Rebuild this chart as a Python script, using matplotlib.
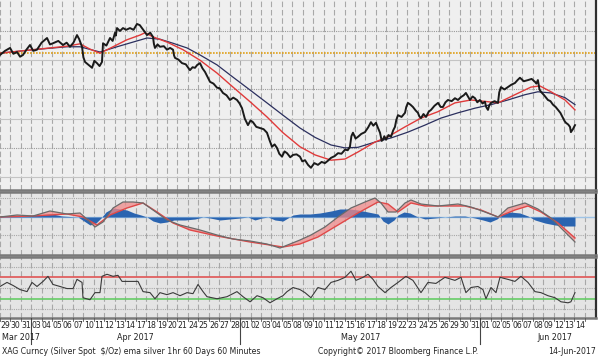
import matplotlib
matplotlib.use('Agg')
import matplotlib.pyplot as plt

# session labels (trading days), Mar 29 2017 .. Jun 14 2017
day_labels = ['29', '30', '31',
              '03', '04', '05', '06', '07', '10', '11', '12', '13', '14', '17', '18', '19', '20', '21',
              '24', '25', '26', '27', '28',
              '01', '02', '03', '04', '05', '08', '09', '10', '11', '12', '15', '16', '17', '18', '19',
              '22', '23', '24', '25', '26', '29', '30', '31',
              '01', '02', '05', '06', '07', '08', '09', '12', '13', '14']
month_names = ['Mar 2017', 'Apr 2017', 'May 2017', 'Jun 2017']
month_breaks = [2.5, 22.5, 45.5]

# time in trading sessions since Mar 29 (fractional = intraday)
price_t = [-0.48, 0.00, 0.48, 0.80, 1.15, 1.44, 1.72, 2.05, 2.39, 2.70, 3.06, 3.50, 4.02, 4.30,
           4.59, 5.10, 5.55, 5.90, 6.22, 6.55, 6.89, 7.10, 7.37, 7.50, 7.66, 8.00, 8.33, 8.55,
           8.80, 9.05, 9.28, 9.38, 9.70, 10.05, 10.30, 10.53, 10.60, 10.72, 11.00, 11.29, 11.60,
           11.96, 12.30, 12.63, 12.90, 13.11, 13.35, 13.59, 13.90, 14.16, 14.25, 14.35, 14.60,
           14.83, 15.20, 15.50, 15.80, 16.08, 16.18, 16.27, 16.60, 16.94, 17.30, 17.70, 17.95,
           18.18, 18.40, 18.66, 18.90, 19.14, 19.40, 19.62, 19.95, 20.29, 20.55, 20.86, 21.20,
           21.53, 21.85, 22.20, 22.45, 22.68, 22.95, 23.25, 23.50, 23.73, 24.05, 24.40, 24.75,
           25.07, 25.30, 25.55, 25.80, 26.03, 26.25, 26.51, 26.75, 26.99, 27.30, 27.56, 27.90,
           28.23, 28.45, 28.71, 29.00, 29.28, 29.60, 29.95, 30.30, 30.62, 30.90, 31.20, 31.55,
           31.87, 32.20, 32.54, 32.80, 33.01, 33.15, 33.30, 33.55, 33.78, 34.10, 34.45, 34.75,
           35.02, 35.25, 35.50, 35.70, 35.89, 36.05, 36.17, 36.30, 36.46, 36.70, 36.94, 37.15,
           37.32, 37.45, 37.61, 37.95, 38.28, 38.40, 38.56, 38.80, 39.04, 39.30, 39.52, 39.65,
           39.81, 40.05, 40.29, 40.55, 40.77, 41.10, 41.44, 41.70, 41.91, 42.15, 42.39, 42.75,
           43.06, 43.35, 43.64, 43.90, 44.11, 44.30, 44.50, 44.75, 44.98, 45.20, 45.45, 45.70,
           45.93, 46.05, 46.22, 46.35, 46.51, 46.85, 47.18, 47.30, 47.46, 47.80, 48.13, 48.45,
           48.80, 49.05, 49.28, 49.65, 50.05, 50.40, 50.72, 50.85, 51.00, 51.15, 51.29, 51.60,
           51.96, 52.20, 52.44, 52.70, 52.92, 53.15, 53.40, 53.55, 53.68, 53.90, 54.07, 54.16,
           54.35, 54.55]
price = [18.09, 18.16, 18.21, 18.11, 18.14, 18.06, 18.09, 18.18, 18.26, 18.16, 18.18, 18.30, 18.38,
         18.27, 18.29, 18.33, 18.26, 18.30, 18.23, 18.30, 18.43, 18.36, 18.23, 18.05, 17.97, 17.92,
         17.87, 17.99, 17.95, 17.90, 17.97, 18.29, 18.25, 18.38, 18.33, 18.47, 18.42, 18.55, 18.50,
         18.55, 18.52, 18.55, 18.52, 18.62, 18.60, 18.55, 18.49, 18.43, 18.47, 18.40, 18.28, 18.21,
         18.27, 18.23, 18.24, 18.18, 18.21, 18.18, 18.08, 18.04, 18.01, 17.95, 17.93, 17.83, 17.88,
         17.87, 17.92, 17.95, 17.86, 17.80, 17.71, 17.63, 17.60, 17.53, 17.52, 17.44, 17.40, 17.32,
         17.36, 17.32, 17.26, 17.18, 17.00, 16.89, 16.97, 16.94, 16.86, 16.84, 16.82, 16.76, 16.64,
         16.52, 16.56, 16.50, 16.40, 16.35, 16.44, 16.41, 16.34, 16.38, 16.39, 16.35, 16.27, 16.29,
         16.21, 16.16, 16.24, 16.21, 16.26, 16.24, 16.28, 16.33, 16.36, 16.41, 16.40, 16.47, 16.46,
         16.52, 16.70, 16.76, 16.66, 16.69, 16.74, 16.77, 16.85, 16.94, 16.88, 16.93, 16.84, 16.76,
         16.62, 16.64, 16.70, 16.64, 16.72, 16.69, 16.80, 16.86, 16.98, 17.06, 17.03, 17.10, 17.20,
         17.27, 17.24, 17.20, 17.14, 17.10, 17.04, 17.01, 17.08, 17.03, 17.12, 17.15, 17.22, 17.27,
         17.20, 17.20, 17.28, 17.32, 17.30, 17.35, 17.32, 17.37, 17.40, 17.44, 17.38, 17.32, 17.38,
         17.35, 17.28, 17.32, 17.26, 17.29, 17.20, 17.15, 17.23, 17.27, 17.30, 17.27, 17.45, 17.54,
         17.50, 17.54, 17.58, 17.61, 17.66, 17.70, 17.64, 17.66, 17.68, 17.63, 17.60, 17.66, 17.50,
         17.46, 17.40, 17.32, 17.30, 17.24, 17.20, 17.15, 17.10, 17.01, 16.96, 16.93, 16.90, 16.86,
         16.77, 16.82, 16.89]

ema_fast_t = [-0.48, 2.68, 5.93, 7.18, 8.13, 9.09, 10.34, 11.67, 12.92, 13.40, 14.16, 15.50, 17.03,
              18.66, 20.29, 21.82, 23.45, 25.07, 26.60, 28.23, 29.67, 31.20, 32.54, 33.78, 35.41,
              36.65, 38.28, 39.81, 41.44, 43.06, 44.59, 46.22, 47.18, 48.80, 50.33, 51.19, 52.25,
              53.59, 54.55]
ema_fast = [18.12, 18.18, 18.24, 18.28, 18.19, 18.12, 18.23, 18.35, 18.43, 18.47, 18.40, 18.31,
            18.18, 18.00, 17.78, 17.54, 17.29, 17.03, 16.76, 16.52, 16.38, 16.29, 16.31, 16.43,
            16.60, 16.69, 16.86, 17.01, 17.12, 17.27, 17.32, 17.29, 17.27, 17.41, 17.54, 17.56,
            17.46, 17.32, 17.15]

ema_slow_t = [-0.48, 2.68, 5.93, 7.18, 9.09, 10.72, 12.25, 13.59, 14.83, 16.08, 17.42, 18.66, 20.29,
              21.82, 23.45, 25.07, 26.60, 28.23, 29.67, 31.20, 32.54, 33.78, 35.41, 36.94, 38.56,
              40.19, 41.72, 43.35, 44.98, 46.51, 48.13, 49.76, 51.00, 52.25, 53.59, 54.55]
ema_slow = [18.12, 18.18, 18.23, 18.23, 18.14, 18.23, 18.31, 18.38, 18.36, 18.29, 18.21, 18.09,
            17.92, 17.71, 17.49, 17.27, 17.06, 16.84, 16.68, 16.55, 16.50, 16.51, 16.60, 16.67,
            16.77, 16.89, 17.01, 17.10, 17.18, 17.24, 17.32, 17.41, 17.46, 17.44, 17.36, 17.24]

ref_level = 18.12

macd_t = [-0.48, 1.15, 2.68, 4.30, 5.93, 7.18, 7.94, 8.61, 9.38, 10.34, 11.29, 12.25, 13.21, 14.16,
          15.50, 16.75, 18.66, 20.29, 21.82, 23.45, 25.07, 26.32, 27.28, 28.23, 29.28, 30.62, 31.87,
          33.11, 34.45, 35.41, 35.98, 36.65, 37.42, 38.28, 38.85, 39.81, 41.44, 43.35, 44.59, 45.93,
          47.18, 48.13, 49.76, 51.00, 52.25, 53.59, 54.55]
macd = [0.00, 0.02, 0.01, 0.06, 0.03, 0.04, -0.03, -0.10, -0.05, 0.09, 0.15, 0.15, 0.14, 0.07,
        -0.03, -0.08, -0.13, -0.18, -0.22, -0.24, -0.27, -0.31, -0.27, -0.23, -0.18, -0.10, 0.00,
        0.09, 0.15, 0.19, 0.14, 0.05, 0.05, 0.14, 0.17, 0.13, 0.11, 0.13, 0.10, 0.05, 0.00, 0.09,
        0.14, 0.08, -0.01, -0.15, -0.25]

signal_t = [-0.48, 2.68, 5.93, 7.46, 8.80, 10.05, 11.67, 13.21, 14.55, 16.08, 17.70, 20.29, 23.45,
            26.60, 28.23, 29.95, 31.87, 33.78, 35.70, 36.65, 37.61, 38.85, 40.19, 42.10, 44.02,
            45.55, 47.18, 48.80, 50.05, 51.29, 52.92, 54.55]
signal = [0.00, 0.01, 0.03, 0.00, -0.08, 0.02, 0.09, 0.14, 0.05, -0.06, -0.13, -0.19, -0.25, -0.30,
          -0.27, -0.20, -0.08, 0.04, 0.15, 0.13, 0.05, 0.14, 0.11, 0.11, 0.11, 0.07, 0.00, 0.07,
          0.11, 0.05, -0.06, -0.21]

hist_t = [-0.48, 0.48, 1.44, 2.39, 3.35, 4.11, 4.78, 5.45, 6.22, 6.98, 7.56, 8.13, 8.71, 9.19, 9.66,
          10.34, 11.00, 11.67, 12.35, 13.02, 13.59, 14.16, 14.83, 15.50, 16.17, 17.22, 18.18, 18.95,
          19.62, 20.57, 21.53, 22.49, 23.25, 23.92, 24.59, 25.17, 25.84, 26.60, 27.08, 27.56, 28.23,
          29.19, 30.14, 31.20, 32.06, 33.01, 33.78, 34.74, 35.70, 36.17, 36.65, 37.23, 37.61, 38.18,
          38.76, 39.33, 40.19, 41.15, 42.10, 43.06, 44.02, 44.98, 45.74, 46.41, 47.08, 47.66, 48.33,
          49.28, 50.05, 50.72, 51.67, 52.63, 53.59, 54.55]
hist = [0.010, 0.015, 0.010, 0.015, 0.020, 0.030, 0.025, 0.010, 0.005, 0.000, -0.040, -0.080, -0.060,
        -0.010, 0.050, 0.090, 0.080, 0.070, 0.040, 0.020, 0.000, -0.040, -0.060, -0.050, -0.030,
        -0.030, -0.020, 0.000, -0.010, -0.030, -0.020, -0.010, 0.000, -0.030, -0.010, 0.000, -0.030,
        -0.040, -0.010, 0.020, 0.030, 0.030, 0.040, 0.060, 0.080, 0.080, 0.070, 0.050, 0.030, -0.040,
        -0.070, -0.030, 0.020, 0.050, 0.040, 0.010, -0.020, -0.010, 0.000, 0.010, 0.010, -0.010,
        -0.030, -0.050, -0.020, 0.030, 0.050, 0.040, 0.010, -0.030, -0.060, -0.080, -0.090, -0.090]

rsi_t = [-0.48, 0.19, 0.77, 1.44, 2.11, 2.58, 3.06, 3.64, 4.11, 4.59, 5.26, 5.93, 6.51, 6.89, 7.37,
         7.46, 8.13, 8.61, 9.09, 9.28, 9.76, 10.34, 10.81, 11.20, 11.96, 12.73, 13.21, 13.88, 14.35,
         14.83, 15.50, 16.08, 16.75, 17.42, 17.99, 18.47, 18.95, 19.33, 20.29, 21.24, 22.20, 22.78,
         23.45, 24.12, 24.69, 25.36, 26.03, 26.60, 26.99, 27.56, 28.23, 28.71, 29.28, 29.95, 30.62,
         31.20, 31.87, 32.54, 33.11, 33.59, 34.26, 34.74, 35.22, 35.70, 36.37, 36.94, 37.61, 38.37,
         39.04, 39.81, 40.48, 41.24, 42.10, 43.06, 43.64, 44.11, 44.59, 45.26, 45.74, 46.03, 46.51,
         46.99, 47.37, 48.13, 48.80, 49.38, 50.05, 50.72, 51.29, 51.96, 52.63, 53.21, 53.88, 54.16,
         54.55]
rsi = [52.9, 60.5, 54.8, 47.1, 43.3, 60.5, 52.9, 62.4, 71.9, 56.7, 52.9, 49.0, 49.0, 66.2, 60.5,
       31.9, 28.1, 41.4, 41.4, 71.9, 75.7, 71.9, 73.8, 62.4, 62.4, 62.4, 43.3, 41.4, 30.0, 41.4,
       37.6, 41.4, 35.7, 41.4, 39.5, 56.7, 43.3, 33.8, 30.0, 33.8, 43.3, 33.8, 24.3, 35.7, 31.9,
       22.4, 30.0, 35.7, 43.3, 51.0, 47.1, 41.4, 31.9, 51.0, 47.1, 60.5, 64.3, 70.0, 81.4, 64.3,
       70.0, 75.7, 66.2, 52.9, 41.4, 51.0, 60.5, 71.9, 64.3, 41.4, 60.5, 58.6, 70.0, 64.3, 70.0,
       41.4, 51.0, 52.9, 47.1, 30.0, 51.0, 41.4, 70.0, 66.2, 62.4, 71.9, 60.5, 43.3, 41.4, 35.7,
       31.9, 24.3, 22.4, 24.3, 41.4]

W, H = 598, 362
fig = plt.figure(figsize=(W / 100, H / 100), dpi=100)
fig.patch.set_facecolor('white')
narrow = ['Liberation Sans Narrow', 'DejaVu Sans']

def box(top, bottom, right=596):
    return [0, 1 - bottom / H, right / W, (bottom - top) / H]

ax1 = fig.add_axes(box(0, 190))
ax2 = fig.add_axes(box(192, 255))
ax3 = fig.add_axes(box(257, 318))

x0, x1 = -0.48, 56.56
for ax, bg in ((ax1, '#efefef'), (ax2, '#e6e6e6'), (ax3, '#e4e4e4')):
    ax.set_facecolor(bg)
    ax.set_xlim(x0, x1)
    ax.set_xticks([])
    ax.set_yticks([])
    ax.spines['left'].set_visible(False)
    ax.spines['right'].set_color('#303030')
    ax.spines['right'].set_linewidth(1.6)
    for s in ('top', 'bottom'):
        ax.spines[s].set_color('#7a7a7a')
        ax.spines[s].set_linewidth(1.8)
    # dashed session grid
    ax.vlines([i + 0.5 for i in range(-1, len(day_labels))], 0, 1,
              transform=ax.get_xaxis_transform(), colors='#a8a8a8',
              linewidth=0.8, linestyles=(0, (5, 2.5)), zorder=1)
ax1.spines['top'].set_visible(False)

# --- price panel
ax1.set_ylim(15.78, 19.03)
for lv in (18.5, 17.5, 16.5):
    ax1.axhline(lv, color='#9a9a9a', lw=0.8, ls=(0, (1, 1)), zorder=1)
for lv in (18.0, 17.0, 16.0):
    ax1.axhline(lv, color='#c4c4c4', lw=0.8, zorder=1)
ax1.axhline(ref_level, color='#e0a018', lw=1.2, ls=(0, (1, 0.8)), zorder=2)
ax1.plot(ema_slow_t, ema_slow, color='#2b2f5e', lw=0.9, zorder=3)
ax1.plot(ema_fast_t, ema_fast, color='#e03a3a', lw=1.0, zorder=4)
ax1.plot(price_t, price, color='#1a1a1a', lw=1.4, zorder=5)

# --- MACD-style panel
ax2.set_ylim(-0.38, 0.25)
for lv in (0.19, -0.18):
    ax2.axhline(lv, color='#a8a8a8', lw=0.8, ls=(0, (1, 1)), zorder=1)
ax2.axhline(0, color='#9ec3e6', lw=1.0, zorder=2)
ax2.fill_between(hist_t, 0, hist, color='#2a64b0', lw=0, zorder=3)
ax2.fill(list(macd_t) + signal_t[::-1], list(macd) + signal[::-1],
         color='#f08a8a', alpha=0.75, lw=0, zorder=4)
ax2.plot(signal_t, signal, color='#e04848', lw=1.0, zorder=5)
ax2.plot(macd_t, macd, color='#6a6a6a', lw=0.9, zorder=6)

# --- RSI panel
ax3.set_ylim(-6, 108)
for lv in (90, 50, 10):
    ax3.axhline(lv, color='#a8a8a8', lw=0.8, ls=(0, (1, 1)), zorder=1)
ax3.axhline(70, color='#e05555', lw=1.2, zorder=2)
ax3.axhline(30, color='#66cc66', lw=1.2, zorder=2)
ax3.plot(rsi_t, rsi, color='#3a3a3a', lw=0.8, zorder=3)

# --- date axis (below the bottom panel)
axd = fig.add_axes([0, 0, 1, 1 - 318 / H])
axd.set_xlim(x0, x0 + (x1 - x0) * W / 596)
axd.set_ylim(0, 1)
axd.axis('off')

def yrow(py):
    return 1 - (py - 318) / (H - 318)

for i, lab in enumerate(day_labels):
    axd.text(i, yrow(326), lab, ha='center', va='center', fontsize=5.6,
             family=narrow, color='#222222')
for i in range(-1, len(day_labels)):
    axd.plot([i + 0.5, i + 0.5], [yrow(318), yrow(321)], color='#555555', lw=0.6)
for b in month_breaks:
    axd.plot([b, b], [yrow(318), yrow(344)], color='#444444', lw=0.8)
month_pos = [-0.29, 12.44, 34.07, 52.63]
for k, (mp, mn) in enumerate(zip(month_pos, month_names)):
    axd.text(mp, yrow(337), mn, ha='left' if k == 0 else 'center', va='center',
             fontsize=5.8, family=narrow, color='#222222')

fig.text(2 / W, 1 - 351 / H, 'XAG Curncy (Silver Spot  $/Oz) ema silver 1hr 60 Days 60 Minutes',
         ha='left', va='center', fontsize=5.6, family=narrow, color='#222222')
fig.text(318 / W, 1 - 351 / H, 'Copyright\u00a9 2017 Bloomberg Finance L.P.',
         ha='left', va='center', fontsize=5.6, family=narrow, color='#222222')
fig.text(596 / W, 1 - 351 / H, '14-Jun-2017', ha='right', va='center',
         fontsize=5.6, family=narrow, color='#222222')

fig.savefig('out.png', dpi=100)
